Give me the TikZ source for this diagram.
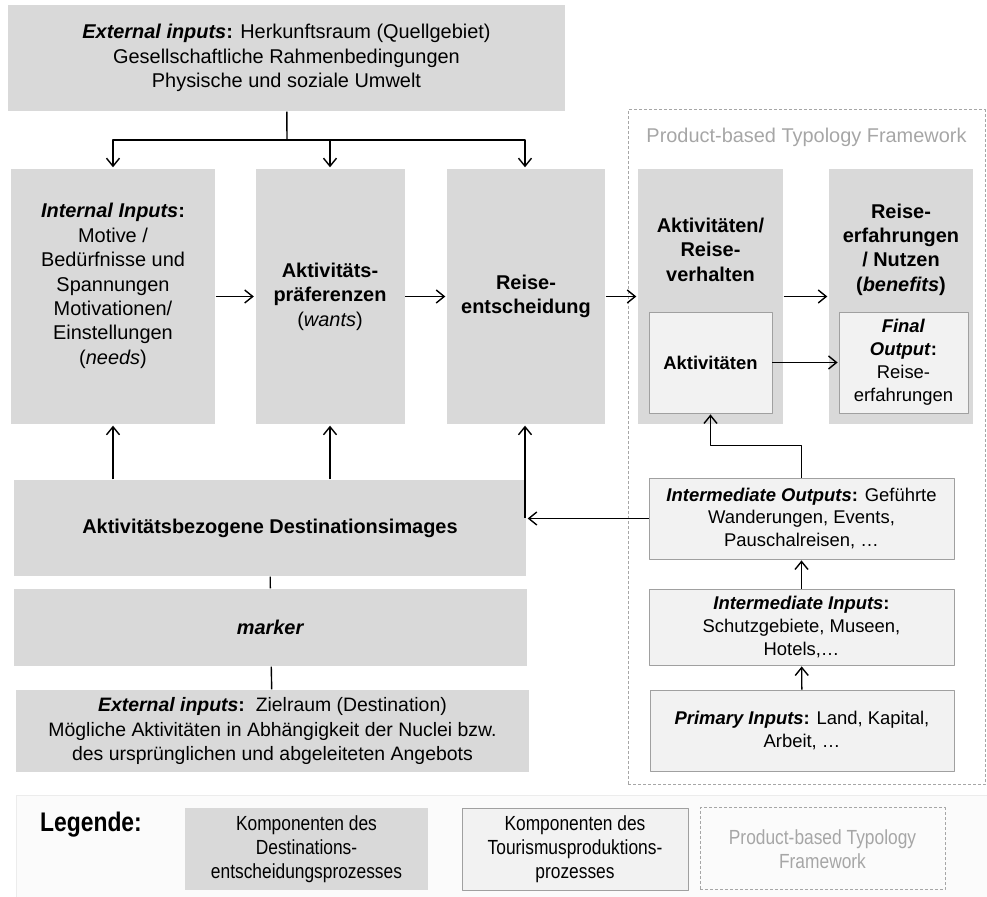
\documentclass[tikz,border=0pt]{standalone}
\usepackage{fontspec}
\setmainfont{Liberation Sans}
\newfontfamily\narrowfont[FakeStretch=0.85]{Liberation Sans}
\usetikzlibrary{arrows.meta}
\definecolor{procgray}{RGB}{217,217,217}
\definecolor{prodgray}{RGB}{242,242,242}
\definecolor{prodline}{RGB}{160,160,160}
\definecolor{framegray}{RGB}{166,166,166}
\newcommand{\boxfont}{\fontsize{20}{24.5}\selectfont}
\newcommand{\innerfont}{\fontsize{18.5}{23}\selectfont}
\newcommand{\legfont}{\narrowfont\fontsize{20.5}{24}\selectfont}
\newcommand{\bi}[1]{\textbf{\textit{#1}}}
\begin{document}
\begin{tikzpicture}[>={Straight Barb[length=8bp,width=13bp]},line join=bevel,line width=1.4bp,
  procbox/.style={fill=procgray,draw=none,align=center,font=\boxfont,inner sep=0pt},
  prodbox/.style={fill=prodgray,draw=prodline,line width=0.8bp,align=center,font=\innerfont,inner sep=0pt},
  framebox/.style={draw=framegray,dashed,dash pattern=on 3bp off 2bp,line width=1bp,inner sep=0pt},
  arr/.style={black,->,shorten >=1bp}]
\useasboundingbox (0bp,0bp) rectangle (987bp,897bp);
%%
\node (frame) at (806.5bp,449.5bp) [framebox,minimum width=357bp,minimum height=675bp] {};
\node (frametitle) at (806.5bp,760bp) [text=framegray,font=\boxfont] {Product-based Typology Framework};
%
\node (top) at (286.5bp,839bp) [procbox,minimum width=557bp,minimum height=106bp] {\bi{External inputs}\textbf{:} Herkunftsraum (Quellgebiet)\\Gesellschaftliche Rahmenbedingungen\\Physische und soziale Umwelt};
\node (internal) at (113bp,600.5bp) [procbox,minimum width=204bp,minimum height=255bp,
  label={[yshift=10.5bp,align=center,font=\boxfont]center:\bi{Internal Inputs}\textbf{:}\\Motive /\\Bedürfnisse und\\Spannungen\\Motivationen/\\Einstellungen\\(\textit{needs})}] {};
\node (praef) at (330bp,600.5bp) [procbox,minimum width=149bp,minimum height=255bp] {\textbf{Aktivitäts-}\\\textbf{präferenzen}\\(\textit{wants})};
\node (entsch) at (526bp,600.5bp) [procbox,minimum width=158bp,minimum height=255bp] {\textbf{Reise-}\\\textbf{entscheidung}};
\node (verhalten) at (710.5bp,600.5bp) [procbox,minimum width=145bp,minimum height=255bp,
  label={[yshift=47bp,align=center,font=\boxfont\bfseries]center:Aktivitäten/\\Reise-\\verhalten}] {};
\node (nutzen) at (901bp,600.5bp) [procbox,minimum width=144bp,minimum height=255bp,
  label={[yshift=47bp,align=center,font=\boxfont\bfseries]center:Reise-\\erfahrungen\\/ Nutzen\\(\textit{benefits})}] {};
\node (aktiv) at (710.5bp,534.5bp) [prodbox,minimum width=123bp,minimum height=101bp] {\textbf{Aktivitäten}};
\node (final) at (903.5bp,534.5bp) [prodbox,minimum width=129bp,minimum height=101bp] {\bi{Final}\\\bi{Output}\textbf{:}\\Reise-\\erfahrungen};
%
\node (dest) at (270bp,369bp) [procbox,minimum width=512bp,minimum height=96bp] {\textbf{Aktivitätsbezogene Destinationsimages}};
\node (marker) at (270.5bp,269.5bp) [procbox,minimum width=513bp,minimum height=77bp] {\bi{marker}};
\node (ext2) at (272.5bp,166bp) [procbox,minimum width=513bp,minimum height=82bp,font=\fontsize{19.5}{25}\selectfont] {\bi{External inputs}\textbf{:}\ \ Zielraum (Destination)\\Mögliche Aktivitäten in Abhängigkeit der Nuclei bzw.\\des ursprünglichen und abgeleiteten Angebots};
%
\node (intout) at (801.5bp,378.5bp) [prodbox,minimum width=305bp,minimum height=81bp] {\bi{Intermediate Outputs}\textbf{:} Geführte\\Wanderungen, Events,\\Pauschalreisen, …};
\node (intin) at (801.5bp,270bp) [prodbox,minimum width=305bp,minimum height=76bp] {\bi{Intermediate Inputs}\textbf{:}\\Schutzgebiete, Museen,\\Hotels,…};
\node (prim) at (802bp,166.5bp) [prodbox,minimum width=304bp,minimum height=81bp] {\bi{Primary Inputs}\textbf{:} Land, Kapital,\\Arbeit, …};
%%
\coordinate (fork) at (287bp,757bp);
\coordinate (tap) at (525bp,379bp);
\draw [black] (top) -- (fork);
\draw [arr] (fork) -| (internal.north);
\draw [arr] (fork) -| (tap |- entsch.north);
\draw [arr] (fork -| praef.north) -- (praef.north);
\draw [arr] (internal) -- (praef);
\draw [arr] (praef) -- (entsch);
\draw [arr] (entsch) -- (verhalten);
\draw [arr] (verhalten) -- (nutzen);
\draw [arr] (aktiv) -- (final);
\draw [arr] (intout.north) -- ++(0bp,32bp) -| (aktiv.south);
\draw [arr] (intout.west) -- (intout.west -| dest.east);
\draw [arr] (tap) -- (tap |- entsch.south);
\draw [arr] (dest.north -| internal) -- (internal.south);
\draw [arr] (dest.north -| praef) -- (praef.south);
\draw [arr] (intin) -- (intout);
\draw [arr] (prim) -- (intin);
\draw [black] (dest) -- (marker);
\draw [black] (marker) -- (ext2);
%% legend
\node (legpanel) at (501.5bp,51bp) [fill=gray!3,draw=gray!15,line width=0.8bp,minimum width=971bp,minimum height=102bp] {};
\node (legtitle) at (91bp,72bp) [font=\narrowfont\fontsize{27}{30}\selectfont\bfseries] {Legende:};
\node (leg1) at (306.5bp,48bp) [procbox,minimum width=243bp,minimum height=82bp,font=\legfont] {Komponenten des\\Destinations-\\entscheidungsprozesses};
\node (leg2) at (575bp,48bp) [prodbox,minimum width=226bp,minimum height=82bp,font=\legfont] {Komponenten des\\Tourismusproduktions-\\prozesses};
\node (leg3) at (822.5bp,48bp) [framebox,minimum width=245bp,minimum height=82bp,align=center,text=framegray,font=\legfont] {Product-based Typology\\Framework};
%
\end{tikzpicture}
\end{document}
